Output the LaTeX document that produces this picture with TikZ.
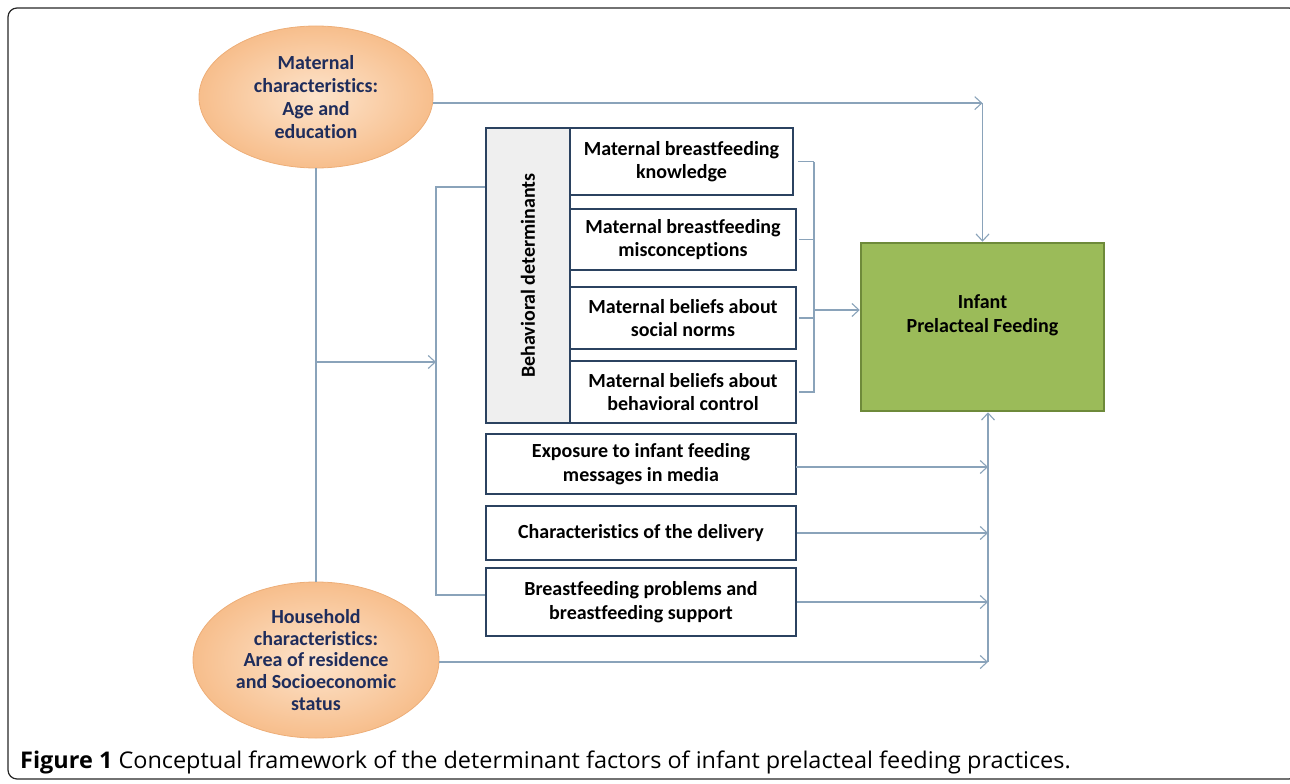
\documentclass[tikz,border=0pt]{standalone}
\usepackage{fontspec}
\setmainfont{Carlito}[Ligatures=NoCommon]
\newfontfamily\capfont{Open Sans}[FakeStretch=1.02]
\usetikzlibrary{arrows.meta,shapes.geometric,calc}
\definecolor{boxc}{HTML}{2B4260}
\definecolor{linec}{HTML}{8AA3BA}
\definecolor{navy}{HTML}{1F2D5C}
\definecolor{peachin}{HTML}{FDE4CC}
\definecolor{peachout}{HTML}{F7BE8C}
\definecolor{peachedge}{HTML}{EDAE78}
\definecolor{grayfill}{HTML}{EFEFEF}
\definecolor{greenfill}{HTML}{9BBB59}
\definecolor{greenedge}{HTML}{6E8A3A}
\tikzset{
  boxn/.style={draw=boxc, line width=2.7pt, fill=white, rectangle, align=center,
    inner sep=0pt, font=\fontsize{20}{23.5}\selectfont\bfseries},
  ovaln/.style={ellipse, draw=peachedge, line width=0.8pt, inner color=peachin, outer color=peachout,
    align=center, inner sep=0pt, text=navy},
  conn/.style={draw=linec, line width=1.3pt},
  arr/.style={conn, -{Straight Barb[length=7pt,width=13pt,line width=1.1pt]}},
}
\begin{document}
\begin{tikzpicture}[x=1pt,y=-1pt]
\useasboundingbox (0,0) rectangle (1290,784);
\draw[line width=1.2pt, color=black!85, rounded corners=9pt] (8,8) rectangle (1298,779);

% ellipses
\node[ovaln, minimum width=234, minimum height=142, font=\fontsize{20}{23}\selectfont\bfseries] (mat) at (316,97)
  {Maternal\\characteristics:\\Age and\\education};
\node[ovaln, minimum width=246, minimum height=156, font=\fontsize{20}{21.7}\selectfont\bfseries] (hh) at (316,660)
  {Household\\characteristics:\\Area of residence\\and Socioeconomic\\status};

% behavioral determinants
\node[boxn, fill=grayfill, minimum width=84, minimum height=295] (gray) at (528,275.5)
  {\rotatebox{90}{Behavioral determinants}};
\node[boxn, minimum width=223, minimum height=67] (k1) at (681.5,161.5)
  {Maternal breastfeeding\\knowledge};
\node[boxn, minimum width=226, minimum height=61] (k2) at (683,239.5)
  {Maternal breastfeeding\\misconceptions};
\node[boxn, minimum width=226, minimum height=62] (k3) at (683,318)
  {Maternal beliefs about\\social norms};
\node[boxn, minimum width=226, minimum height=62] (k4) at (683,392)
  {Maternal beliefs about\\behavioral control};

\node[boxn, minimum width=310, minimum height=60] (expo) at (641,464)
  {Exposure to infant feeding\\messages in media};
\node[boxn, minimum width=310, minimum height=54] (deliv) at (641,533)
  {Characteristics of the delivery};
\node[boxn, minimum width=310, minimum height=68] (prob) at (641,602)
  {Breastfeeding problems and\\breastfeeding support};

% outcome
\node[rectangle, draw=greenedge, line width=2.5pt, fill=greenfill, minimum width=243, minimum height=168,
  inner sep=0pt] (inf) at (982.5,327) {};
\node[align=center, font=\fontsize{20}{24}\selectfont\bfseries] (inftxt) at (982.5,315)
  {Infant\\Prelacteal Feeding};

% coordinates
\coordinate (c1) at (982.5,103);
\coordinate (m1) at (316,362);
\coordinate (c2) at (436,362);
\coordinate (bl1) at (436,187);
\coordinate (bl2) at (436,595);
\coordinate (rb1) at (814,162);
\coordinate (rb2) at (814,393);
\coordinate (rbm) at (814,310);
\coordinate (c3) at (988,662);
\coordinate (e1) at (796,467);

% connectors
\draw[arr] (mat.-3) -- (mat.-3 -| c1);
\draw[arr] (c1) -- (inf.north);
\draw[conn] (mat.south) -- (hh.north);
\draw[arr] (m1) -- (c2);
\draw[conn] (gray.west |- bl1) -- (bl1) -- (bl2) -- (prob.west |- bl2);

\draw[conn, shorten <=4pt] (k1.east) -- (k1.east -| rb1);
\draw[conn, shorten <=2pt] (k2.east) -- (k2.east -| rb1);
\draw[conn, shorten <=2pt] (k3.east) -- (k3.east -| rb1);
\draw[conn, shorten <=2pt] (k4.east) -- (k4.east -| rb1);
\draw[conn] (rb1) -- (rb2);
\draw[arr] (rbm) -- (rbm -| inf.west);

\draw[arr] (e1) -- (e1 -| c3);
\draw[arr] (deliv.east) -- (deliv.east -| c3);
\draw[arr] (prob.east) -- (prob.east -| c3);
\draw[arr] (hh.east |- c3) -- (c3);
\draw[arr] (c3) -- (c3 |- inf.south);

% caption
\node[anchor=base west, inner sep=0pt, font=\capfont\fontsize{23}{27}\selectfont] (cap) at (20,768)
  {\textbf{Figure 1} Conceptual framework of the determinant factors of infant prelacteal feeding practices.};
\end{tikzpicture}
\end{document}
